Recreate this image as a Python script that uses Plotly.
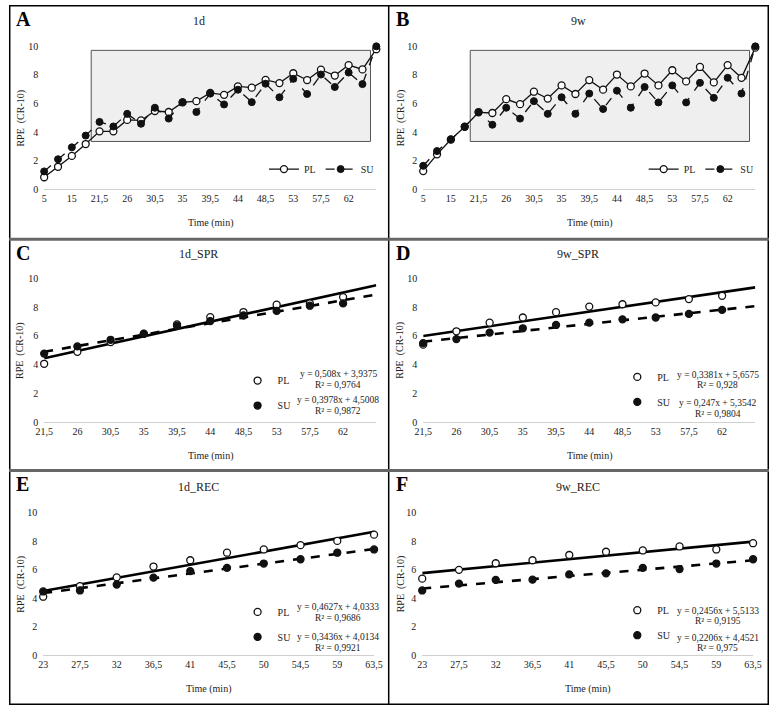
import plotly.graph_objects as go

W, H = 778, 711
FONT = "Liberation Serif"
TXT = "#222222"

# ---------------- data ----------------
times_AB = ["5", "10", "15", "20", "21,5", "23", "26", "27,5", "30,5", "32", "35", "36,5",
            "39,5", "41", "44", "45,5", "48,5", "50", "53", "54,5", "57,5", "59", "62", "63,5", "End"]
tick_AB = times_AB[0:23:2]

A_PL = [0.85, 1.58, 2.34, 3.17, 4.06, 4.06, 4.86, 4.82, 5.48, 5.41, 6.08, 6.17, 6.74, 6.61,
        7.20, 7.11, 7.66, 7.43, 8.12, 7.64, 8.37, 7.96, 8.69, 8.39, 9.80]
A_SU = [1.26, 2.11, 2.94, 3.76, 4.72, 4.40, 5.28, 4.59, 5.71, 4.95, 6.10, 5.41, 6.70, 5.94,
        6.97, 6.10, 7.39, 6.44, 7.73, 6.67, 8.03, 7.16, 8.17, 7.36, 10.0]
B_PL = [1.28, 2.45, 3.49, 4.38, 5.39, 5.34, 6.31, 5.96, 6.83, 6.35, 7.27, 6.67, 7.64, 6.97,
        8.03, 7.20, 8.10, 7.27, 8.33, 7.55, 8.56, 7.48, 8.69, 7.80, 9.91]
B_SU = [1.65, 2.68, 3.49, 4.38, 5.41, 4.52, 5.71, 4.95, 6.17, 5.28, 6.44, 5.28, 6.70, 5.62,
        6.90, 5.71, 7.16, 6.08, 7.27, 6.08, 7.45, 6.40, 7.80, 6.70, 10.0]

times_SPR = [21.5, 26, 30.5, 35, 39.5, 44, 48.5, 53, 57.5, 62]
labels_SPR = ["21,5", "26", "30,5", "35", "39,5", "44", "48,5", "53", "57,5", "62"]
times_REC = [23, 27.5, 32, 36.5, 41, 45.5, 50, 54.5, 59, 63.5]
labels_REC = ["23", "27,5", "32", "36,5", "41", "45,5", "50", "54,5", "59", "63,5"]

C_PL = [4.06, 4.89, 5.57, 6.16, 6.80, 7.31, 7.66, 8.17, 8.26, 8.70]
C_SU = [4.77, 5.27, 5.73, 6.14, 6.71, 7.03, 7.42, 7.74, 8.10, 8.26]
D_PL = [5.39, 6.32, 6.92, 7.28, 7.65, 8.04, 8.20, 8.33, 8.56, 8.79]
D_SU = [5.50, 5.78, 6.23, 6.53, 6.76, 6.92, 7.15, 7.28, 7.53, 7.81]
E_PL = [4.10, 4.84, 5.46, 6.22, 6.66, 7.19, 7.42, 7.72, 8.02, 8.46]
E_SU = [4.47, 4.54, 4.95, 5.44, 5.90, 6.13, 6.43, 6.73, 7.19, 7.42]
F_PL = [5.37, 5.99, 6.45, 6.66, 7.03, 7.26, 7.35, 7.63, 7.42, 7.86]
F_SU = [4.54, 5.02, 5.28, 5.30, 5.67, 5.74, 6.13, 6.04, 6.43, 6.73]

# trendline coefficients (slope, intercept) on point index 1..n
C_fit = {"PL": (0.508, 3.9375), "SU": (0.3978, 4.5008)}
D_fit = {"PL": (0.3381, 5.6575), "SU": (0.247, 5.3542)}
E_fit = {"PL": (0.4627, 4.0333), "SU": (0.3436, 4.0134)}
F_fit = {"PL": (0.2456, 5.5133), "SU": (0.2206, 4.4521)}
C_eq = {"PL": ("y = 0,508x + 3,9375", "R² = 0,9764"), "SU": ("y = 0,3978x + 4,5008", "R² = 0,9872")}
D_eq = {"PL": ("y = 0,3381x + 5,6575", "R² = 0,928"), "SU": ("y = 0,247x + 5,3542", "R² = 0,9804")}
E_eq = {"PL": ("y = 0,4627x + 4,0333", "R² = 0,9686"), "SU": ("y = 0,3436x + 4,0134", "R² = 0,9921")}
F_eq = {"PL": ("y = 0,2456x + 5,5133", "R² = 0,9195"), "SU": ("y = 0,2206x + 4,4521", "R² = 0,975")}

titles = ["1d", "9w", "1d_SPR", "9w_SPR", "1d_REC", "9w_REC"]
letters = ["A", "B", "C", "D", "E", "F"]


def px(x):
    return x / W


def py(y):
    return 1 - y / H


fig = go.Figure()

# panel plot-area geometry (pixels): left, right, top, bottom
panels = [
    (36, 376, 42, 187.3),
    (424, 764, 42, 187.3),
    (36, 376, 277.7, 423.7),
    (424, 764, 277.7, 423.7),
    (35, 373.7, 515.7, 660.3),
    (423, 761.7, 515.7, 660.3),
]
panel_tops = [0, 0, 238, 238, 472.5, 472.5]
panel_lefts = [0, 388.7, 0, 388.7, 0, 388.7]

layout_axes = {}
for i, (l, r, t, b) in enumerate(panels):
    n = "" if i == 0 else str(i + 1)
    layout_axes["xaxis" + n] = dict(
        domain=[px(l), px(r)], anchor="y" + n, showgrid=False, zeroline=False,
        showline=True, linecolor="#d0d0d0", linewidth=1, ticks="",
        tickfont=dict(family=FONT, size=10, color=TXT),
    )
    layout_axes["yaxis" + n] = dict(
        domain=[py(b), py(t)], anchor="x" + n, range=[0, 10], dtick=2,
        showgrid=False, zeroline=False, showline=False, ticks="",
        tickfont=dict(family=FONT, size=10, color=TXT), ticklabelstandoff=5,
    )

# ---- A & B ----
for i, (pl, su) in enumerate([(A_PL, A_SU), (B_PL, B_SU)]):
    n = "" if i == 0 else str(i + 1)
    leg = "legend" if i == 0 else "legend2"
    fig.add_trace(go.Scatter(
        x=times_AB, y=pl, name="PL", mode="lines+markers", xaxis="x" + n, yaxis="y" + n,
        line=dict(color="#111", width=1.3),
        marker=dict(symbol="circle", size=7, color="white", line=dict(color="#111", width=1.3)),
        cliponaxis=False, legend=leg))
    fig.add_trace(go.Scatter(
        x=times_AB, y=su, name="SU", mode="lines+markers", xaxis="x" + n, yaxis="y" + n,
        line=dict(color="#111", width=1.3, dash="dash"),
        marker=dict(symbol="circle", size=7, color="#111", line=dict(color="#111", width=1)),
        cliponaxis=False, legend=leg))
    layout_axes["xaxis" + n].update(type="category", categoryorder="array",
                                    categoryarray=times_AB, range=[0, len(times_AB) - 1],
                                    tickmode="array", tickvals=tick_AB, ticktext=tick_AB)

# ---- C..F ----
reg_panels = [
    (times_SPR, labels_SPR, C_PL, C_SU, C_fit, C_eq, 11),
    (times_SPR, labels_SPR, D_PL, D_SU, D_fit, D_eq, 11),
    (times_REC, labels_REC, E_PL, E_SU, E_fit, E_eq, 10),
    (times_REC, labels_REC, F_PL, F_SU, F_fit, F_eq, 10),
]
annotations = []
for k, (tm, lab, pl, su, fit, eq, nfit) in enumerate(reg_panels):
    i = k + 2
    n = str(i + 1)
    leg = "legend" + n
    step = tm[1] - tm[0]
    x_end = tm[0] + (nfit - 1) * step
    for name, vals, dash, fill in [("PL", pl, "solid", "white"), ("SU", su, "dash", "#111")]:
        s, c = fit[name]
        fig.add_trace(go.Scatter(
            x=[tm[0], x_end], y=[s * 1 + c, s * nfit + c], mode="lines",
            xaxis="x" + n, yaxis="y" + n, showlegend=False,
            line=dict(color="#000", width=2.6, dash=dash), cliponaxis=False))
        fig.add_trace(go.Scatter(
            x=tm, y=vals, name=name, mode="markers", xaxis="x" + n, yaxis="y" + n,
            marker=dict(symbol="circle", size=7, color=fill, line=dict(color="#111", width=1.3)),
            cliponaxis=False, legend=leg, legendgroup=name))
    layout_axes["xaxis" + n].update(range=[tm[0], x_end if nfit == 11 else tm[-1]],
                                    tickmode="array", tickvals=tm, ticktext=lab)

# legends
legends = {}
legends["legend"] = dict(orientation="h", x=px(261), y=py(166.7), xanchor="left", yanchor="middle",
                         bgcolor="rgba(0,0,0,0)", font=dict(family=FONT, size=10, color=TXT),
                         itemwidth=30, tracegroupgap=0)
legends["legend2"] = dict(legends["legend"], x=px(388.7 + 261))

eq_rows = [  # (PL eq y, PL R2 y, SU eq y, SU R2 y, legend first-item y)
    (375, 385.5, 401, 412, 380.7),
    (376, 386, 404, 415, 377),
    (611.7, 622.7, 641.7, 652.7, 615.7),
    (615.7, 625.7, 642.7, 652.7, 614),
]
for k in range(4):
    i = k + 2
    l = panel_lefts[i]
    y1, y2, y3, y4, yl = eq_rows[k]
    legends["legend" + str(i + 1)] = dict(
        orientation="v", x=px(l + 234), y=py(yl - 14), xanchor="left", yanchor="top",
        bgcolor="rgba(0,0,0,0)", font=dict(family=FONT, size=10, color=TXT),
        itemwidth=30, tracegroupgap=6)
    eqd = reg_panels[k][5]
    for (txt, yy) in [(eqd["PL"][0], y1), (eqd["PL"][1], y2), (eqd["SU"][0], y3), (eqd["SU"][1], y4)]:
        annotations.append(dict(text=txt, x=px(l + 337), y=py(yy), xref="paper", yref="paper",
                                xanchor="center", yanchor="middle", showarrow=False,
                                font=dict(family=FONT, size=9.5, color=TXT)))

# titles, letters, axis titles
for i, (l, r, t, b) in enumerate(panels):
    top = panel_tops[i]
    left = panel_lefts[i]
    title_y = [16, 16, 253.3, 253.3, 490, 490][i]
    annotations.append(dict(text=titles[i], x=px(left + 194), y=py(title_y), xref="paper", yref="paper",
                            xanchor="center", yanchor="middle", showarrow=False,
                            font=dict(family=FONT, size=12, color=TXT)))
    annotations.append(dict(text="<b>" + letters[i] + "</b>", x=px(left + 5), y=py(top + 14),
                            xref="paper", yref="paper", xanchor="left", yanchor="middle",
                            showarrow=False, font=dict(family=FONT, size=20, color="#000")))
    annotations.append(dict(text="Time (min)", x=px((l + r) / 2), y=py(b + 34), xref="paper",
                            yref="paper", xanchor="center", yanchor="middle", showarrow=False,
                            font=dict(family=FONT, size=10, color=TXT)))
    annotations.append(dict(text="RPE  (CR-10)", x=px(left + 12), y=py((t + b) / 2), xref="paper",
                            yref="paper", xanchor="center", yanchor="middle", showarrow=False,
                            textangle=-90, font=dict(family=FONT, size=10, color=TXT)))

shapes = []
# shaded boxes in A and B
for n in ["", "2"]:
    shapes.append(dict(type="rect", xref="x" + n, yref="y" + n, x0=3.4, x1=23.58, y0=3.35, y1=9.72,
                       fillcolor="#efefef", line=dict(color="#555", width=1), layer="below"))
# panel borders
shapes.append(dict(type="rect", xref="paper", yref="paper", x0=px(0.75), x1=px(W - 0.75),
                   y0=py(H - 0.75), y1=py(0.75),
                   line=dict(color="#000", width=1.5), fillcolor="rgba(0,0,0,0)"))
shapes.append(dict(type="line", xref="paper", yref="paper", x0=px(388.7), x1=px(388.7), y0=0, y1=1,
                   line=dict(color="#000", width=1.5)))
for yy in [238, 472.7]:
    shapes.append(dict(type="line", xref="paper", yref="paper", x0=0, x1=1, y0=py(yy), y1=py(yy),
                       line=dict(color="#666", width=3)))

fig.update_layout(
    width=W, height=H, margin=dict(l=0, r=0, t=0, b=0),
    paper_bgcolor="white", plot_bgcolor="white",
    font=dict(family=FONT, size=10, color=TXT),
    separators=",.", hovermode=False,
    annotations=annotations, shapes=shapes,
    **layout_axes, **legends,
)

PAGE_FIX = (
    "var s=document.createElement('style');"
    "s.textContent='html,body{margin:0!important;padding:0!important;overflow:hidden!important;}';"
    "document.head.appendChild(s);"
    "var d=document.getElementById('{plot_id}');"
    "if(d){d.style.position='fixed';d.style.left='0px';d.style.top='0px';}"
)

fig.write_html("out.html", config={"displayModeBar": False}, post_script=PAGE_FIX)
